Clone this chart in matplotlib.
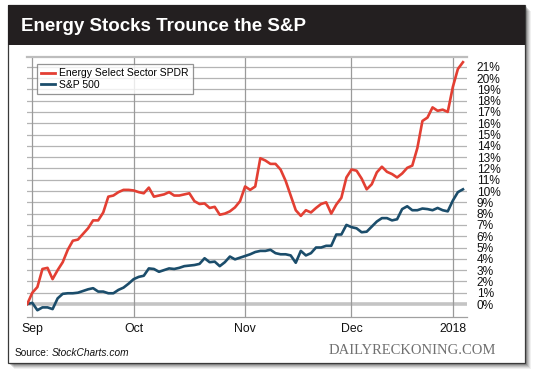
import matplotlib
matplotlib.use("Agg")
import matplotlib.pyplot as plt
from matplotlib.patches import Rectangle

# ---- data (trading-day index from Aug 31 2017) ----
energy = [0.0, 1.0, 1.5, 3.1, 3.2, 2.2, 3.0, 3.7, 4.8, 5.6,
          5.7, 6.2, 6.7, 7.4, 7.4, 8.1, 9.5, 9.6, 9.9, 10.1,
          10.1, 10.05, 9.9, 9.8, 10.3, 9.5, 9.6, 9.7, 9.9, 9.6,
          9.6, 9.7, 9.8, 9.1, 8.85, 8.9, 8.5, 8.6, 7.9, 8.0,
          8.2, 8.55, 9.1, 10.4, 10.1, 10.4, 12.9, 12.7, 12.4, 12.4,
          11.9, 10.9, 9.6, 8.3, 7.8, 8.3, 8.1, 8.5, 8.85, 9.0,
          8.0, 8.8, 9.4, 11.2, 11.9, 11.8, 11.1, 10.15, 10.6, 11.65,
          12.15, 11.7, 11.5, 11.2, 11.55, 12.05, 12.25, 13.8, 16.2, 16.5,
          17.4, 17.1, 17.2, 17.0, 19.2, 20.8, 21.4]
sp500 = [0.0, 0.1, -0.55, -0.3, -0.3, -0.45, 0.5, 0.9, 0.95, 0.95,
         1.0, 1.15, 1.3, 1.4, 1.1, 1.1, 0.95, 0.95, 1.25, 1.45,
         1.8, 2.2, 2.4, 2.5, 3.15, 3.1, 2.85, 3.0, 3.15, 3.1,
         3.2, 3.35, 3.4, 3.45, 3.55, 4.05, 3.7, 3.75, 3.35, 3.7,
         4.2, 3.95, 4.1, 4.25, 4.4, 4.6, 4.7, 4.7, 4.8, 4.5,
         4.4, 4.4, 4.3, 3.65, 4.7, 4.3, 4.5, 5.0, 5.0, 5.15,
         5.15, 6.15, 6.15, 7.0, 6.8, 6.7, 6.35, 6.4, 6.85, 7.3,
         7.6, 7.6, 7.4, 7.5, 8.4, 8.65, 8.3, 8.3, 8.45, 8.4,
         8.3, 8.5, 8.3, 8.2, 9.15, 9.9, 10.15]
month_tick_idx = [1, 21, 43, 64, 84]
month_labels = ["Sep", "Oct", "Nov", "Dec", "2018"]
pct_ticks = list(range(0, 22))
series_names = ["Energy Select Sector SPDR", "S&P 500"]

RED = "#e33f33"
BLUE = "#1b4d6b"
W, H = 540, 376
FONT = ["Liberation Sans", "DejaVu Sans"]
plt.rcParams["font.family"] = FONT

fig = plt.figure(figsize=(W / 100, H / 100), dpi=100)
fig.patch.set_facecolor("white")

# background / frame axes in pixel coords
bg = fig.add_axes([0, 0, 1, 1])
bg.set_xlim(0, W)
bg.set_ylim(H, 0)
bg.axis("off")
L, T, R, B = 8, 5, 525, 363
# shadow
for k, a in enumerate([0.10, 0.14, 0.18, 0.22, 0.28, 0.34]):
    off = 6 - k
    bg.add_patch(Rectangle((L + off, T + off), R - L, B - T, facecolor="#000000",
                           alpha=a * 0.6, edgecolor="none", zorder=1))
bg.add_patch(Rectangle((L, T), R - L, B - T, facecolor="white",
                       edgecolor="#3a3a3a", linewidth=0.9, zorder=2))
bg.add_patch(Rectangle((L, T), R - L, 40, facecolor="#231f20",
                       edgecolor="none", zorder=3))
bg.text(21, 26.5, "Energy Stocks Trounce the S&P", color="white", fontsize=13.5,
        fontweight="bold", va="center", ha="left", zorder=4)
src = bg.text(15, 353, "Source:", fontsize=7.3, va="center", ha="left",
              color="#111111", zorder=4)
bg.annotate("StockCharts.com", xy=(1, 0.5), xycoords=src, xytext=(1.6, 0),
            textcoords="offset points", fontsize=7.3, va="center", ha="left",
            style="italic", color="#111111", zorder=4)
bg.text(496, 351, "DAILYRECKONING.COM", fontsize=10.5, va="center", ha="right",
        family=["Liberation Serif", "DejaVu Serif"], color="#707070", zorder=4)

# plot axes
px_l, px_r, px_t, px_b = 27, 467, 57, 317
ax = fig.add_axes([px_l / W, 1 - px_b / H, (px_r - px_l) / W, (px_b - px_t) / H])
ax.set_zorder(5)
ax.patch.set_alpha(0)
x = list(range(len(energy)))
ax.set_xlim(-0.05, 86.8)
ax.set_ylim(-1.15, 21.86)

for v in pct_ticks:
    if v == 0:
        ax.axhline(v, color="#c4c4c4", lw=2.6, zorder=1)
    else:
        ax.axhline(v, color="#b4b4b4", lw=0.9, zorder=1)
for i in month_tick_idx:
    ax.axvline(i, color="#9a9a9a", lw=0.9, zorder=1)

ax.plot(x, sp500, color=BLUE, lw=1.9, label=series_names[1], zorder=3,
        solid_joinstyle="round")
ax.plot(x, energy, color=RED, lw=1.9, label=series_names[0], zorder=4,
        solid_joinstyle="round")

for s in ["left", "right"]:
    ax.spines[s].set_visible(False)
ax.spines["top"].set_color("#bdbdbd")
ax.spines["top"].set_linewidth(1.6)
ax.spines["bottom"].set_color("#a0a0a0")
ax.spines["bottom"].set_linewidth(0.9)

ax.yaxis.tick_right()
ax.set_yticks(pct_ticks)
ax.set_yticklabels([f"{v}%" for v in pct_ticks])
ax.tick_params(axis="y", length=0, pad=7, labelsize=8.6, labelcolor="#111111")
ax.set_xticks(month_tick_idx)
ax.set_xticklabels(month_labels)
ax.tick_params(axis="x", length=0, pad=4, labelsize=8.8, labelcolor="#111111")

handles, labels = ax.get_legend_handles_labels()
leg = ax.legend(handles[::-1], labels[::-1], loc="upper left",
                bbox_to_anchor=(0.022, 0.975), fontsize=7.5, frameon=True,
                fancybox=False, shadow=False, handlelength=1.3, handletextpad=0.4,
                borderpad=0.45, labelspacing=0.15, borderaxespad=0)
leg.get_frame().set_edgecolor("#7a7a7a")
leg.get_frame().set_linewidth(0.9)
for ln in leg.get_lines():
    ln.set_linewidth(2.0)

fig.savefig("out.png", dpi=100, facecolor="white")
